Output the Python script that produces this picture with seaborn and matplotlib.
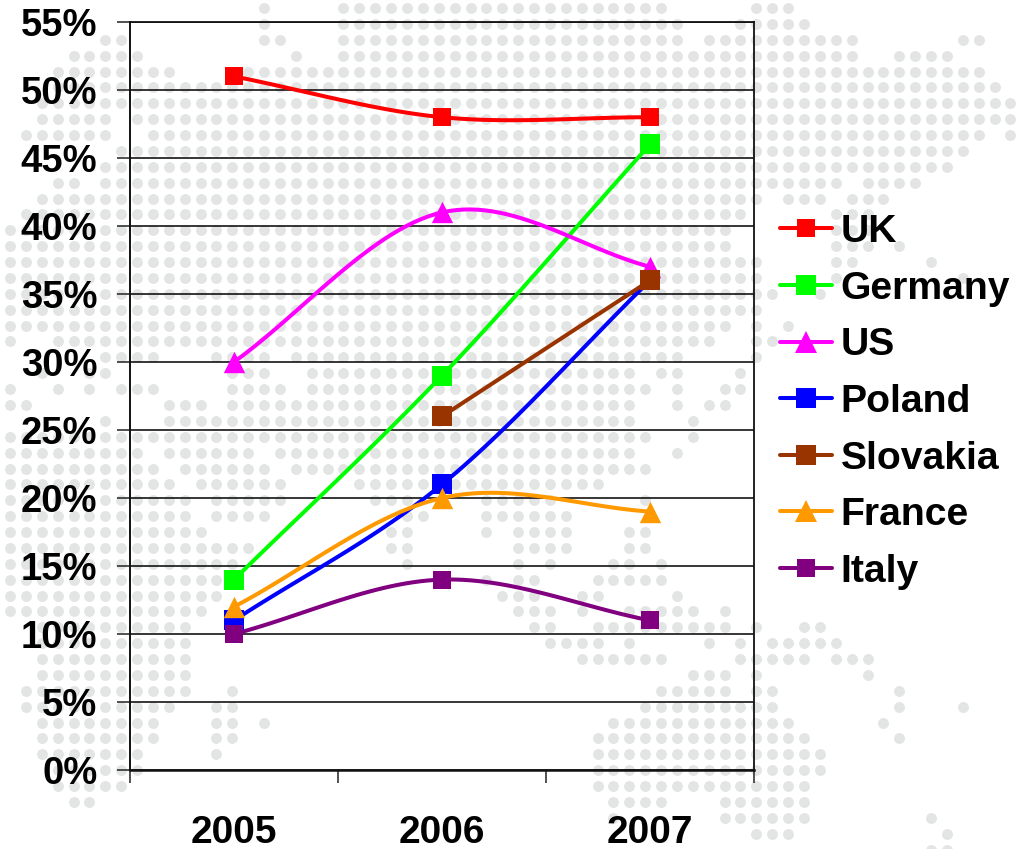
import matplotlib
matplotlib.use("Agg")
import matplotlib.pyplot as plt
from matplotlib.lines import Line2D
import numpy as np
import pandas as pd
import seaborn as sns

years = ["2005", "2006", "2007"]
uk = [51, 48, 48]
germany = [14, 29, 46]
us = [30, 41, 37]
poland = [11, 21, 36]
slovakia = [np.nan, 26, 36]
france = [12, 20, 19]
italy = [10, 14, 11]
y_ticks = list(range(0, 60, 5))

names = ["UK", "Germany", "US", "Poland", "Slovakia", "France", "Italy"]
series = [uk, germany, us, poland, slovakia, france, italy]
colors = ["#FF0000", "#00FF00", "#FF00FF", "#0000FF", "#993300", "#FF9900", "#800080"]
markers = ["s", "s", "^", "s", "s", "^", "s"]
marker_sizes = [12.4, 14.6, 15.4, 14.6, 14.6, 15.4, 12.4]

# watermark world map: columns that hold a dot, one string per row of the grid
map_rows = [
    "16 21-41 47-49", "16 21-42 46-50", "6-7 16-17 21-42 44-53 60-61",
    "4-8 18 21-53 56-59", "3-10 14-61", "3-62", "2-63", "2-6 8-63",
    "1-6 9-61 63", "7-60", "6-59", "3-4 6-52 54-57", "2-47 49-51 53-55",
    "1-46 52-54", "0-45 52-54", "0-45 52-54 56", "0-47 52-53 58",
    "0-47 52 60", "0-48 51", "0-47", "0-45 47 49", "0 3-44 47-48",
    "6-9 13-16 18-42 47", "2 5-6 14-16 19-39 41-42 46",
    "0 3 5 7-9 14-17 19-40 42 45-46", "0-1 10-12 14-39 42 44-45",
    "6 10-39 43", "0-40 43", "0-8 10-15 17-39 42", "0-9 11-16 18-40",
    "0-10 12-17 22-37", "0-11 13-17 23-25 30-34 40",
    "0-11 13-16 25-26 30-35", "0-12 24-25 30 32-35 39-40",
    "0-15 24-25 32-35 39-40", "0-14 25 32 34 38-39 41",
    "0-14 30 32-33 37-41", "0-13 31-33 36-37 42", "0-12 32-34 36 39-43 45",
    "2-11 33-34 37-45 47 50-51", "2-11 34-37 39 44 46 48-52",
    "2-11 36-41 46-50 52-54", "2-11 43-45 47 54",
    "1-11 14 41-45 47-48 56", "1-10 13-14 40-48 56 60",
    "2-9 13-14 16 38-49 55", "2-9 13-14 37-50 56", "2-8 13 37-51",
    "3-8 37-51", "3-7 37-50", "4-5 38-41 45-50", "38 45-50 58", "47-49 59",
    "58-59",
]


def map_dots(rows):
    cols, lines = [], []
    for j, row in enumerate(rows):
        for part in row.split():
            first, _, last = part.partition("-")
            for k in range(int(first), int(last or first) + 1):
                cols.append(10 + 15.88 * k)
                lines.append(8 + 15.88 * j)
    return cols, lines


def smooth(xs, ys, steps=30):
    # spreadsheet style smoothed line: bezier segments, straight handle at the ends
    out_x, out_y = [], []
    n = len(xs)
    for i in range(n - 1):
        y1, y2 = ys[i], ys[i + 1]
        c1 = y1 + (y2 - ys[i - 1]) / 6 if i > 0 else y1 + (y2 - y1) / 3
        c2 = y2 - (ys[i + 2] - y1) / 6 if i + 2 < n else y2 - (y2 - y1) / 3
        t = np.linspace(0, 1, steps)
        out_x.extend(xs[i] + t * (xs[i + 1] - xs[i]))
        out_y.extend((1 - t) ** 3 * y1 + 3 * t * (1 - t) ** 2 * c1
                     + 3 * t ** 2 * (1 - t) * c2 + t ** 3 * y2)
    return out_x, out_y


sns.set_theme(style="white")
plt.rcParams["font.family"] = ["Liberation Sans", "DejaVu Sans"]

W, H = 1020, 849
fig = plt.figure(figsize=(W / 100, H / 100), dpi=100, facecolor="white")

# background dots sit in their own full-figure axes
bg = fig.add_axes([0, 0, 1, 1])
bg.set_xlim(0, W)
bg.set_ylim(H, 0)
bg.axis("off")
dot_x, dot_y = map_dots(map_rows)
sns.scatterplot(x=dot_x, y=dot_y, s=62, color="#E3E5E5", linewidth=0, ax=bg, legend=False)

ax = fig.add_axes([130 / W, 1 - 770 / H, 624 / W, 748 / H])
ax.patch.set_alpha(0)

handles = []
for name, values, color, marker, size in zip(names, series, colors, markers, marker_sizes):
    df = pd.DataFrame({"x": range(len(years)), "y": values}).dropna()
    curve_x, curve_y = smooth(df["x"].tolist(), df["y"].tolist())
    sns.lineplot(x=curve_x, y=curve_y, sort=False, estimator=None, color=color,
                 linewidth=2.9, ax=ax, legend=False)
    sns.scatterplot(data=df, x="x", y="y", marker=marker, s=size ** 2, color=color,
                    linewidth=0, ax=ax, legend=False, zorder=3)
    handles.append(Line2D([], [], color=color, linewidth=2.9, marker=marker,
                          markersize=size, markeredgewidth=0, label=name))

ax.set_xlim(-0.5, 2.5)
ax.set_ylim(0, 55)
ax.set_xlabel("")
ax.set_ylabel("")

ax.set_yticks(y_ticks)
ax.set_yticklabels([f"{v}%" for v in y_ticks], fontsize=27.5, fontweight="bold", color="black")
ax.tick_params(axis="y", length=9.5, width=1.1, color="#222222", pad=14, left=True)
ax.yaxis.grid(True, color="black", linewidth=1.1)
ax.set_axisbelow(True)

# ticks fall between the categories, labels sit on them
ax.set_xticks([-0.5, 0.5, 1.5, 2.5])
ax.set_xticklabels([])
ax.set_xticks(range(len(years)), labels=years, minor=True)
ax.tick_params(axis="x", which="major", length=9.5, width=1.1, color="#222222", bottom=True)
ax.tick_params(axis="x", which="minor", length=0, pad=32.5, labelsize=28)
for label in ax.get_xticklabels(minor=True):
    label.set_fontweight("bold")
    label.set_color("black")

for side in ax.spines:
    ax.spines[side].set_visible(True)
    ax.spines[side].set_color("#111111")
ax.spines["left"].set_linewidth(1.4)
ax.spines["right"].set_linewidth(1.3)
ax.spines["top"].set_linewidth(1.3)
ax.spines["bottom"].set_linewidth(1.8)

ax.legend(handles=handles, loc="upper left", bbox_to_anchor=(780 / W, 1 - 214 / H),
          bbox_transform=fig.transFigure, frameon=False, numpoints=1,
          prop={"size": 28.2, "weight": "bold"}, labelcolor="black",
          handlelength=1.33, handletextpad=0.22, labelspacing=0.527,
          borderpad=0, borderaxespad=0)

fig.savefig("out.png", dpi=100)
plt.close(fig)
